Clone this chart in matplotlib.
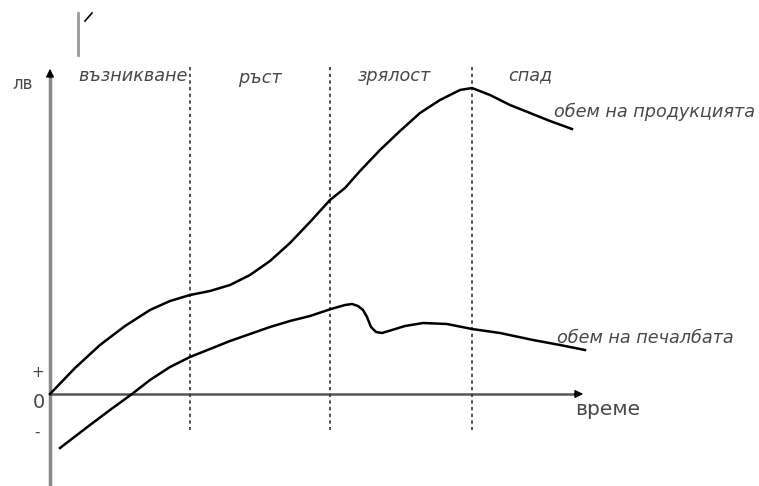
import matplotlib.pyplot as plt

plt.rcParams['font.family'] = ['DejaVu Sans']

# -- data (pixel-like units, y grows downward)
phase_names = ['възникване', 'ръст', 'зрялост', 'спад']
phase_bounds = [190, 330, 472]

prod_x = [50, 75, 100, 125, 150, 170, 190, 210, 230, 250, 270, 290, 310, 330, 345, 360,
          380, 400, 420, 440, 460, 472, 490, 510, 530, 550, 572]
prod_y = [394, 368, 345, 326, 310, 301, 295, 291, 285, 275, 261, 243, 222, 200, 188, 171,
          150, 131, 113, 100, 90, 88, 95, 105, 113, 121, 129]

profit_x = [60, 90, 110, 132, 150, 170, 190, 210, 230, 250, 270, 290, 310, 331, 345, 352,
            358, 363, 367, 371, 376, 382, 392, 405, 423, 447, 472, 500, 533, 560, 585]
profit_y = [448, 425, 410, 394, 380, 367, 357, 349, 341, 334, 327, 321, 316, 309, 305, 304,
            306, 310, 317, 327, 332, 333, 330, 326, 323, 324, 329, 333, 340, 345, 350]

W, H = 759, 486
fig = plt.figure(figsize=(W / 100, H / 100), dpi=100)
ax = fig.add_axes([0, 0, 1, 1])
ax.set_xlim(0, W)
ax.set_ylim(H, 0)
ax.axis('off')

# axes with arrows
ax.plot([50, 50], [486, 75], color='#888888', lw=2.5, solid_capstyle='butt')
ax.annotate('', xy=(50, 66), xytext=(50, 80),
            arrowprops=dict(arrowstyle='-|>', color='black', lw=1, mutation_scale=12))
ax.plot([50, 576], [394, 394], color='#555555', lw=1.8)
ax.annotate('', xy=(586, 394), xytext=(572, 394),
            arrowprops=dict(arrowstyle='-|>', color='black', lw=1, mutation_scale=12))

# phase separators
for xb in phase_bounds:
    ax.plot([xb, xb], [67, 430], color='#333333', lw=1.2, ls=(0, (2, 2)))

# curves
ax.plot(prod_x, prod_y, color='black', lw=1.8)
ax.plot(profit_x, profit_y, color='black', lw=1.8)

# stray mark at the top
ax.plot([78, 78], [13, 55], color='#999999', lw=2)
ax.plot([85, 92], [21, 13], color='black', lw=1.2)

# texts
it = dict(style='italic', fontsize=12.7, color='#484848', va='center')
ax.text(78, 76, phase_names[0], ha='left', **it)
ax.text(238, 78, phase_names[1], ha='left', **it)
ax.text(358, 76, phase_names[2], ha='left', **it)
ax.text(508, 75, phase_names[3], ha='left', **it)
ax.text(554, 112, 'обем на продукцията', ha='left', **it)
ax.text(557, 338, 'обем на печалбата', ha='left', **it)

ax.text(12, 84, 'лв', fontsize=12, color='#484848', va='center', ha='left')
ax.text(575, 409, 'време', fontsize=14.5, color='#484848', va='center', ha='left')
ax.text(38, 372, '+', fontsize=11, color='#484848', va='center', ha='center')
ax.text(39, 402, '0', fontsize=14, color='#484848', va='center', ha='center')
ax.text(37, 432, '-', fontsize=11, color='#484848', va='center', ha='center')

fig.savefig('out.png', dpi=100)
